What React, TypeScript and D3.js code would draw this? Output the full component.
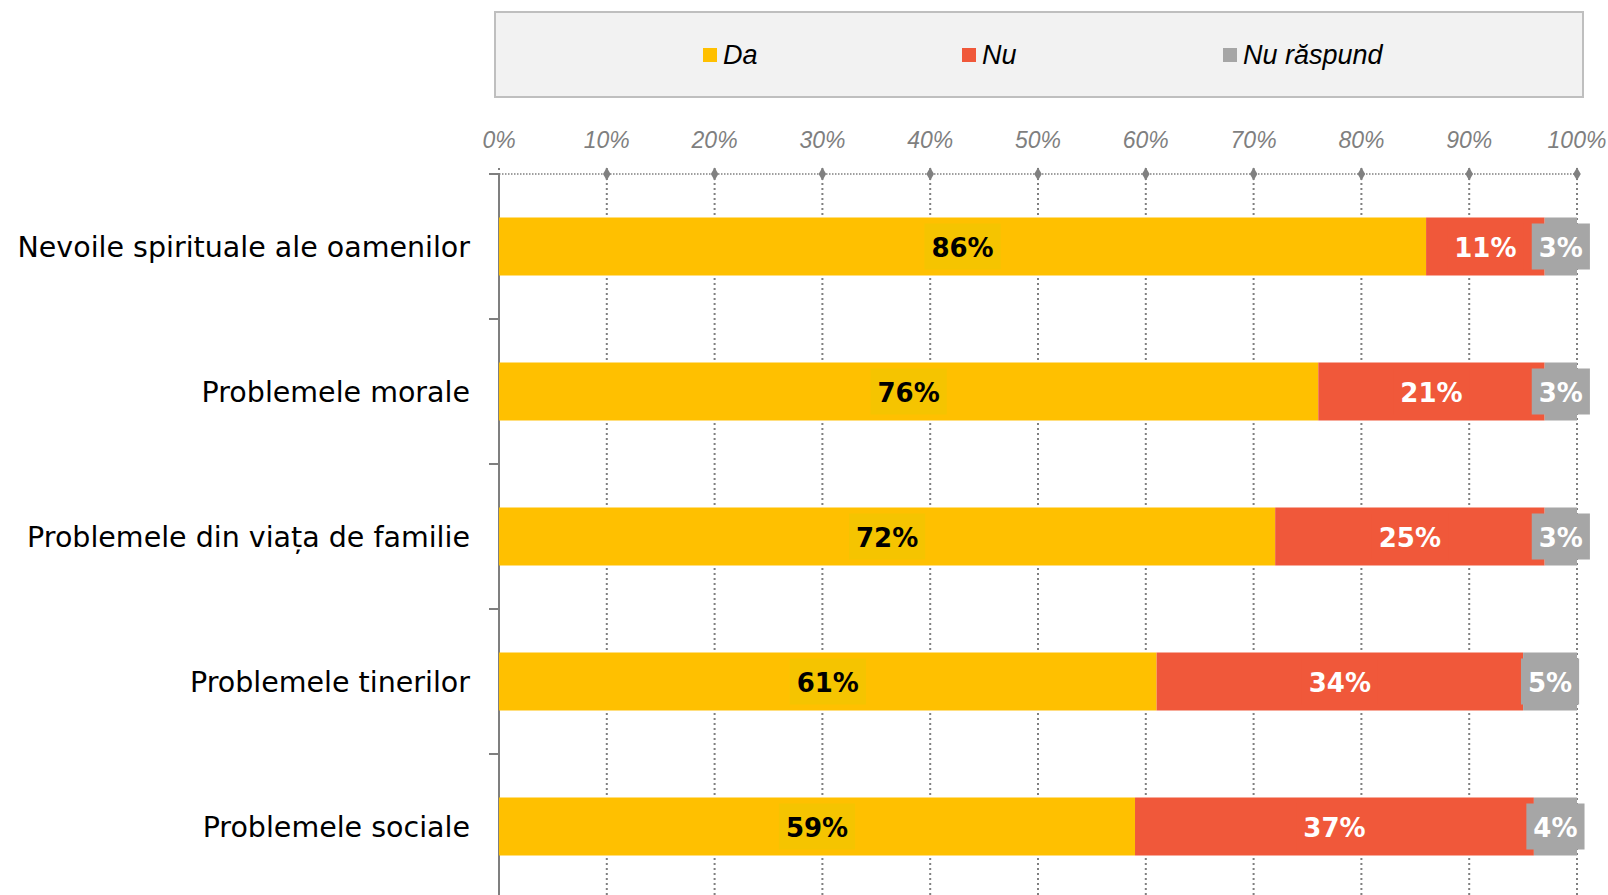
import React, { useRef, useEffect } from 'react';
import { select, scaleLinear, scaleBand, symbol, symbolDiamond } from 'd3';

const categories = [
  'Nevoile spirituale ale oamenilor',
  'Problemele morale',
  'Problemele din viața de familie',
  'Problemele tinerilor',
  'Problemele sociale',
];
const da = [86, 76, 72, 61, 59];
const nu = [11, 21, 25, 34, 37];
const nuRaspund = [3, 3, 3, 5, 4];
const seriesNames = ['Da', 'Nu', 'Nu răspund'];
const tickValues = [0, 10, 20, 30, 40, 50, 60, 70, 80, 90, 100];

const colors = ['#FFC000', '#F0583A', '#A6A6A6'];
const labelBg = ['#F5C400', '#F0583A', '#A6A6A6'];
const labelColor = ['#000000', '#FFFFFF', '#FFFFFF'];

function App() {
  const svgRef = useRef(null);

  useEffect(() => {
    const svg = select(svgRef.current);
    svg.selectAll('*').remove();

    const top = 174;
    const x = scaleLinear().domain([0, 100]).range([499, 1577]);
    const y = scaleBand()
      .domain(categories)
      .range([top, top + 145 * categories.length])
      .paddingInner(0.6)
      .paddingOuter(0.3);
    const bottom = top + 145 * categories.length;

    // legend box
    const legend = svg.append('g');
    legend
      .append('rect')
      .attr('x', 495)
      .attr('y', 12)
      .attr('width', 1088)
      .attr('height', 85)
      .attr('fill', '#F2F2F2')
      .attr('stroke', '#BFBFBF')
      .attr('stroke-width', 2);
    const legendX = [703, 962, 1223];
    seriesNames.forEach((name, i) => {
      legend
        .append('rect')
        .attr('x', legendX[i])
        .attr('y', 48)
        .attr('width', 14)
        .attr('height', 14)
        .attr('fill', colors[i]);
      legend
        .append('text')
        .attr('x', legendX[i] + 20)
        .attr('y', 64)
        .attr('font-family', 'Liberation Sans, Arial, sans-serif')
        .attr('font-style', 'italic')
        .attr('font-size', 27)
        .attr('fill', '#000')
        .text(name);
    });

    // gridlines (dotted)
    const grid = svg.append('g');
    tickValues.forEach((t) => {
      grid
        .append('line')
        .attr('x1', x(t))
        .attr('x2', x(t))
        .attr('y1', top - 6)
        .attr('y2', t === 0 ? top : bottom)
        .attr('stroke', '#808080')
        .attr('stroke-width', 2)
        .attr('stroke-dasharray', '2,3');
    });
    grid
      .append('line')
      .attr('x1', x(0))
      .attr('x2', x(100))
      .attr('y1', top)
      .attr('y2', top)
      .attr('stroke', '#808080')
      .attr('stroke-width', 1.5)
      .attr('stroke-dasharray', '1.5,1.5');

    // top axis diamonds and labels
    const diamond = symbol().type(symbolDiamond).size(50);
    tickValues.forEach((t) => {
      if (t > 0) {
        grid
          .append('path')
          .attr('d', diamond())
          .attr('transform', `translate(${x(t)},${top})`)
          .attr('fill', '#808080');
      }
      grid
        .append('text')
        .attr('x', x(t))
        .attr('y', 148)
        .attr('text-anchor', 'middle')
        .attr('font-family', 'Liberation Sans, Arial, sans-serif')
        .attr('font-style', 'italic')
        .attr('font-size', 23)
        .attr('fill', '#7F7F7F')
        .text(`${t}%`);
    });

    // left axis
    svg
      .append('line')
      .attr('x1', x(0))
      .attr('x2', x(0))
      .attr('y1', top)
      .attr('y2', bottom)
      .attr('stroke', '#7F7F7F')
      .attr('stroke-width', 2);
    categories.forEach((c, i) => {
      svg
        .append('line')
        .attr('x1', x(0) - 10)
        .attr('x2', x(0))
        .attr('y1', top + 145 * i)
        .attr('y2', top + 145 * i)
        .attr('stroke', '#7F7F7F')
        .attr('stroke-width', 2);
      svg
        .append('text')
        .attr('x', 470)
        .attr('y', y(c) + y.bandwidth() / 2 + 10)
        .attr('text-anchor', 'end')
        .attr('font-family', 'DejaVu Sans, sans-serif')
        .attr('font-size', 28.5)
        .attr('fill', '#000')
        .text(c);
    });

    // stacked bars
    const series = [da, nu, nuRaspund];
    categories.forEach((c, i) => {
      let start = 0;
      const segs = series.map((s) => {
        const seg = { x0: start, x1: start + s[i], v: s[i] };
        start += s[i];
        return seg;
      });
      segs.forEach((seg, k) => {
        svg
          .append('rect')
          .attr('x', x(seg.x0))
          .attr('y', y(c))
          .attr('width', x(seg.x1) - x(seg.x0))
          .attr('height', y.bandwidth())
          .attr('fill', colors[k]);
      });
      segs.forEach((seg, k) => {
        const cx = (x(seg.x0) + x(seg.x1)) / 2;
        const cy = y(c) + y.bandwidth() / 2;
        const g = svg.append('g');
        const bg = g.append('rect').attr('fill', labelBg[k]);
        const txt = g
          .append('text')
          .attr('x', cx)
          .attr('y', cy + 10)
          .attr('text-anchor', 'middle')
          .attr('font-family', 'DejaVu Sans, sans-serif')
          .attr('font-weight', 'bold')
          .attr('font-size', 26)
          .attr('fill', labelColor[k])
          .text(`${seg.v}%`);
        const w = txt.node().getComputedTextLength();
        bg.attr('x', cx - w / 2 - 7)
          .attr('y', cy - 23)
          .attr('width', w + 14)
          .attr('height', 46);
      });
    });
  }, []);

  return (
    <>
      <style>{`body{margin:0}`}</style>
      <svg ref={svgRef} width={1608} height={895} style={{ display: 'block' }} />
    </>
  );
}

export default App;
